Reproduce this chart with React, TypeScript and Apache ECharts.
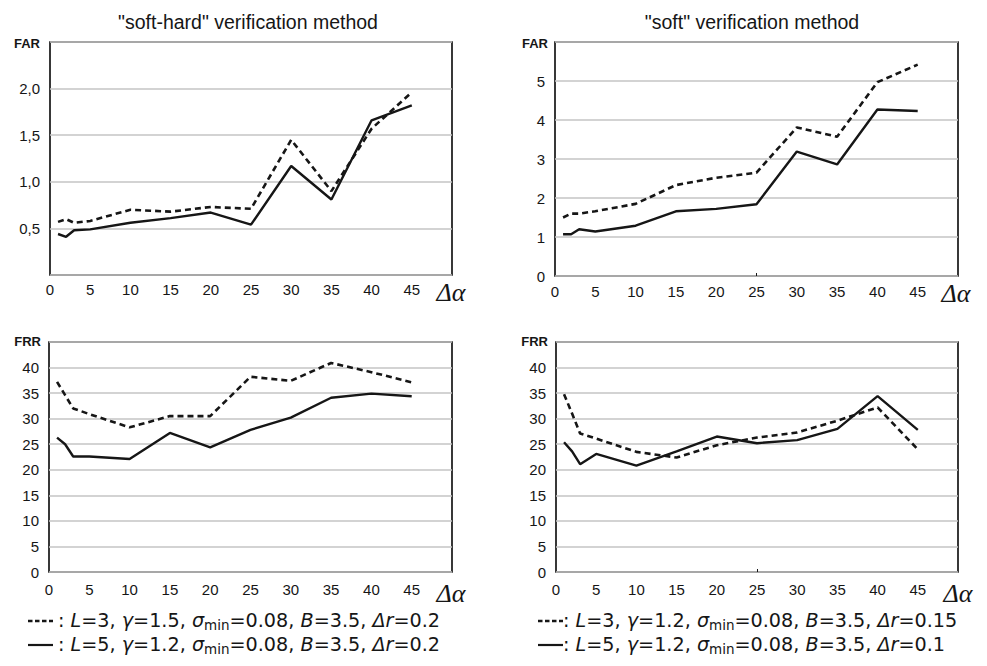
import React, { useEffect, useRef } from "react";
import * as echarts from "echarts";

// Δα values (x axis)
const dAlpha = [1, 2, 3, 5, 10, 15, 20, 25, 30, 35, 40, 45];

// FAR, "soft-hard" method
const farSoftHardDashed = [0.57, 0.6, 0.56, 0.58, 0.7, 0.68, 0.73, 0.71, 1.45, 0.9, 1.57, 1.96];
const farSoftHardSolid = [0.44, 0.41, 0.48, 0.49, 0.56, 0.61, 0.67, 0.54, 1.17, 0.81, 1.66, 1.82];
// FAR, "soft" method
const farSoftDashed = [1.5, 1.6, 1.6, 1.66, 1.85, 2.33, 2.52, 2.65, 3.81, 3.57, 4.97, 5.42];
const farSoftSolid = [1.07, 1.07, 1.2, 1.14, 1.29, 1.66, 1.72, 1.84, 3.19, 2.86, 4.27, 4.23];
// FRR, "soft-hard" method
const frrSoftHardDashed = [37.2, 34.6, 32.0, 30.9, 28.3, 30.5, 30.5, 38.2, 37.4, 40.9, 39.1, 37.1];
const frrSoftHardSolid = [26.3, 25.0, 22.6, 22.6, 22.1, 27.2, 24.4, 27.8, 30.2, 34.1, 34.9, 34.4];
// FRR, "soft" method
const frrSoftDashed = [34.8, 31.0, 27.1, 26.1, 23.5, 22.4, 24.8, 26.3, 27.3, 29.6, 32.2, 24.0];
const frrSoftSolid = [25.4, 23.6, 21.1, 23.1, 20.8, 23.6, 26.5, 25.2, 25.8, 28.0, 34.4, 27.8];

const titles = ['"soft-hard" verification method', '"soft" verification method'];
const yNames = ["FAR", "FAR", "FRR", "FRR"];
const xName = "Δα";

const legendLeft = [
  "{n|: }{i|L}{n|=3, }{i|γ}{n|=1.5, }{i|σ}{s|min}{n|=0.08, }{i|B}{n|=3.5, }{i|Δr}{n|=0.2}",
  "{n|: }{i|L}{n|=5, }{i|γ}{n|=1.2, }{i|σ}{s|min}{n|=0.08, }{i|B}{n|=3.5, }{i|Δr}{n|=0.2}",
];
const legendRight = [
  "{n|: }{i|L}{n|=3, }{i|γ}{n|=1.2, }{i|σ}{s|min}{n|=0.08, }{i|B}{n|=3.5, }{i|Δr}{n|=0.15}",
  "{n|: }{i|L}{n|=5, }{i|γ}{n|=1.2, }{i|σ}{s|min}{n|=0.08, }{i|B}{n|=3.5, }{i|Δr}{n|=0.1}",
];

const INK = "#161616";
const GRIDC = "#c4c4c4";
const SANS = "'Liberation Sans', Arial, sans-serif";

type Panel = {
  grid: { left: number; top: number; width: number; height: number };
  yMax: number;
  yInt: number;
  yFmt: (v: number) => string;
  xMargin: number;
  tick25: boolean;
  dashed: number[];
  solid: number[];
};

const panels: Panel[] = [
  {
    grid: { left: 50, top: 42, width: 402, height: 233 },
    yMax: 2.5,
    yInt: 0.5,
    yFmt: (v) => (v === 0 || v >= 2.5 ? "" : v.toFixed(1).replace(".", ",")),
    xMargin: 7,
    tick25: false,
    dashed: farSoftHardDashed,
    solid: farSoftHardSolid,
  },
  {
    grid: { left: 555, top: 42, width: 403, height: 234 },
    yMax: 6,
    yInt: 1,
    yFmt: (v) => (v >= 6 ? "" : String(v)),
    xMargin: 8,
    tick25: true,
    dashed: farSoftDashed,
    solid: farSoftSolid,
  },
  {
    grid: { left: 49, top: 342, width: 403, height: 230 },
    yMax: 45,
    yInt: 5,
    yFmt: (v) => (v >= 45 ? "" : String(v)),
    xMargin: 10,
    tick25: false,
    dashed: frrSoftHardDashed,
    solid: frrSoftHardSolid,
  },
  {
    grid: { left: 556, top: 342, width: 402, height: 230 },
    yMax: 45,
    yInt: 5,
    yFmt: (v) => (v >= 45 ? "" : String(v)),
    xMargin: 10,
    tick25: true,
    dashed: frrSoftDashed,
    solid: frrSoftSolid,
  },
];

const legendRich = {
  n: { fontSize: 19.2, fontFamily: "'DejaVu Sans', sans-serif", fill: INK },
  i: { fontSize: 19.2, fontFamily: "'DejaVu Sans', sans-serif", fontStyle: "italic", fill: INK },
  s: { fontSize: 13.5, fontFamily: "'DejaVu Sans', sans-serif", fill: INK, padding: [10, 0, 0, 0] },
};

export default function App() {
  const ref = useRef<HTMLDivElement>(null);

  useEffect(() => {
    if (!ref.current) return;
    const chart = echarts.init(ref.current, undefined, { renderer: "svg" });

    const grids = panels.map((p) => ({
      ...p.grid,
      show: true,
      borderColor: INK,
      borderWidth: 1.7,
      backgroundColor: "transparent",
      containLabel: false,
    }));

    const xAxes = panels.map((p, i) => ({
      type: "value",
      gridIndex: i,
      min: 0,
      max: 50,
      interval: 5,
      axisLine: { show: false },
      axisTick: p.tick25
        ? { show: true, customValues: [25], inside: true, length: 3, lineStyle: { color: INK, width: 1 } }
        : { show: false },
      splitLine: { show: false },
      axisLabel: {
        margin: p.xMargin,
        color: INK,
        fontSize: 15,
        fontFamily: SANS,
        formatter: (v: number) => (v >= 50 ? "" : String(v)),
      },
    }));

    const yAxes = panels.map((p, i) => ({
      type: "value",
      gridIndex: i,
      min: 0,
      max: p.yMax,
      interval: p.yInt,
      axisLine: { show: false },
      axisTick: { show: false },
      splitLine: { show: true, lineStyle: { color: GRIDC, width: 1.6 } },
      axisLabel: {
        margin: 10,
        color: INK,
        fontSize: 15,
        fontFamily: SANS,
        formatter: p.yFmt,
      },
    }));

    const series: any[] = [];
    panels.forEach((p, i) => {
      series.push({
        type: "line",
        name: "dashed",
        xAxisIndex: i,
        yAxisIndex: i,
        data: dAlpha.map((x, k) => [x, p.dashed[k]]),
        showSymbol: false,
        symbol: "none",
        lineStyle: { color: INK, width: 2.6, type: [6, 4] },
        z: 3,
      });
      series.push({
        type: "line",
        name: "solid",
        xAxisIndex: i,
        yAxisIndex: i,
        data: dAlpha.map((x, k) => [x, p.solid[k]]),
        showSymbol: false,
        symbol: "none",
        lineStyle: { color: INK, width: 2.4 },
        z: 4,
      });
    });

    const graphic: any[] = [];
    // titles
    graphic.push({
      type: "text",
      x: 248,
      y: 22,
      style: { text: titles[0], fontSize: 19.5, fontFamily: SANS, fill: INK, textAlign: "center", textVerticalAlign: "middle" },
    });
    graphic.push({
      type: "text",
      x: 752,
      y: 22,
      style: { text: titles[1], fontSize: 19.5, fontFamily: SANS, fill: INK, textAlign: "center", textVerticalAlign: "middle" },
    });
    // y names
    const yNamePos = [
      [40, 43],
      [548, 43],
      [41, 341],
      [548, 341],
    ];
    yNamePos.forEach(([x, y], i) => {
      graphic.push({
        type: "text",
        x,
        y,
        style: {
          text: yNames[i],
          fontSize: 13,
          fontWeight: "bold",
          fontFamily: SANS,
          fill: INK,
          textAlign: "right",
          textVerticalAlign: "middle",
        },
      });
    });
    // x names
    const xNamePos = [
      [451, 292],
      [956, 293],
      [451, 593],
      [958, 593],
    ];
    xNamePos.forEach(([x, y]) => {
      graphic.push({
        type: "text",
        x,
        y,
        style: {
          text: xName,
          fontSize: 26,
          fontStyle: "italic",
          fontFamily: "'Liberation Serif', 'DejaVu Serif', serif",
          fill: INK,
          textAlign: "center",
          textVerticalAlign: "middle",
        },
      });
    });

    // legends
    const legendBlocks = [
      { lx: 28, tx: 58, lines: legendLeft },
      { lx: 538, tx: 563, lines: legendRight },
    ];
    const lineYs = [620, 644];
    legendBlocks.forEach((b) => {
      b.lines.forEach((t, k) => {
        const y = lineYs[k];
        graphic.push({
          type: "line",
          shape: { x1: b.lx, y1: y + 1, x2: b.lx + 25, y2: y + 1 },
          style: k === 0 ? { stroke: INK, lineWidth: 2.6, lineDash: [4.5, 2.5] } : { stroke: INK, lineWidth: 2.2 },
        });
        graphic.push({
          type: "text",
          x: b.tx,
          y,
          style: { text: t, rich: legendRich, textAlign: "left", textVerticalAlign: "middle" },
        });
      });
    });

    chart.setOption({
      animation: false,
      backgroundColor: "#ffffff",
      grid: grids,
      xAxis: xAxes,
      yAxis: yAxes,
      series,
      graphic,
    });

    return () => chart.dispose();
  }, []);

  return (
    <div
      ref={ref}
      style={{ position: "fixed", left: 0, top: 0, width: 987, height: 666, background: "#fff" }}
    />
  );
}
